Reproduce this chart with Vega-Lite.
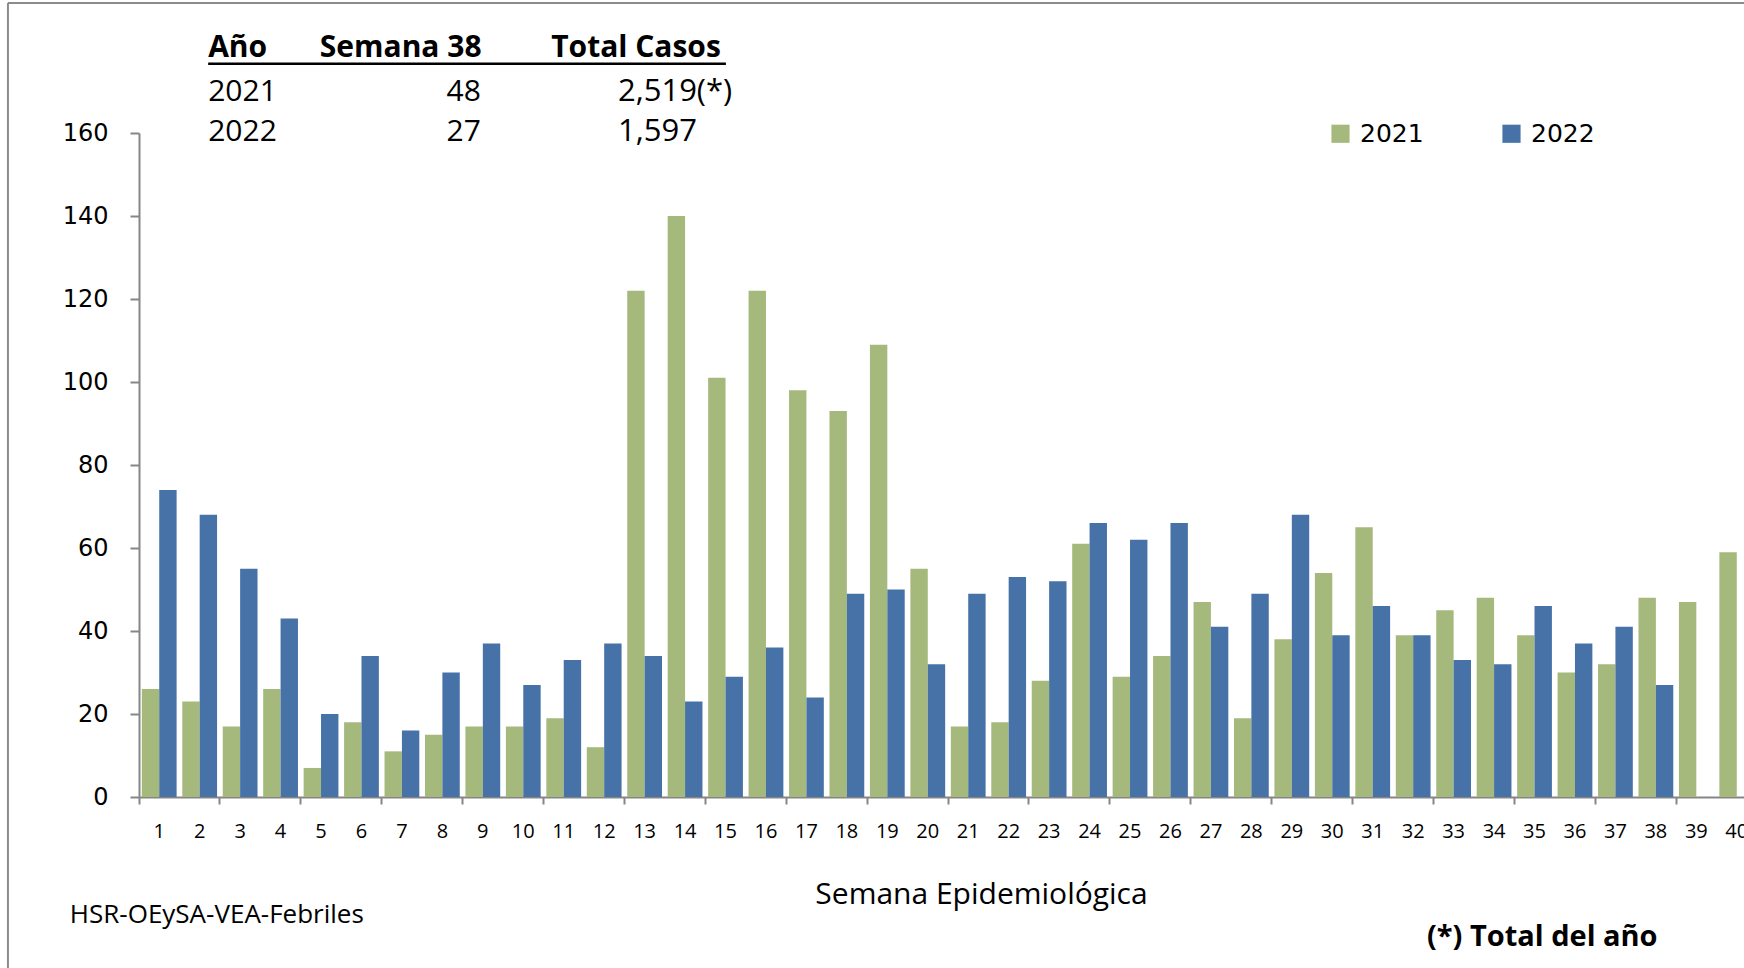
{
  "$schema": "https://vega.github.io/schema/vega-lite/v6.json",
  "width": 1605,
  "height": 664,
  "autosize": {"type": "none"},
  "padding": {"left": 139, "top": 133, "right": 0, "bottom": 171},
  "background": "white",
  "config": {"view": {"stroke": null}},
  "datasets": {
    "casos": [
      {"semana": 1, "year": "2021", "casos": 26}, {"semana": 2, "year": "2021", "casos": 23}, {"semana": 3, "year": "2021", "casos": 17}, {"semana": 4, "year": "2021", "casos": 26}, {"semana": 5, "year": "2021", "casos": 7},
      {"semana": 6, "year": "2021", "casos": 18}, {"semana": 7, "year": "2021", "casos": 11}, {"semana": 8, "year": "2021", "casos": 15}, {"semana": 9, "year": "2021", "casos": 17}, {"semana": 10, "year": "2021", "casos": 17},
      {"semana": 11, "year": "2021", "casos": 19}, {"semana": 12, "year": "2021", "casos": 12}, {"semana": 13, "year": "2021", "casos": 122}, {"semana": 14, "year": "2021", "casos": 140}, {"semana": 15, "year": "2021", "casos": 101},
      {"semana": 16, "year": "2021", "casos": 122}, {"semana": 17, "year": "2021", "casos": 98}, {"semana": 18, "year": "2021", "casos": 93}, {"semana": 19, "year": "2021", "casos": 109}, {"semana": 20, "year": "2021", "casos": 55},
      {"semana": 21, "year": "2021", "casos": 17}, {"semana": 22, "year": "2021", "casos": 18}, {"semana": 23, "year": "2021", "casos": 28}, {"semana": 24, "year": "2021", "casos": 61}, {"semana": 25, "year": "2021", "casos": 29},
      {"semana": 26, "year": "2021", "casos": 34}, {"semana": 27, "year": "2021", "casos": 47}, {"semana": 28, "year": "2021", "casos": 19}, {"semana": 29, "year": "2021", "casos": 38}, {"semana": 30, "year": "2021", "casos": 54},
      {"semana": 31, "year": "2021", "casos": 65}, {"semana": 32, "year": "2021", "casos": 39}, {"semana": 33, "year": "2021", "casos": 45}, {"semana": 34, "year": "2021", "casos": 48}, {"semana": 35, "year": "2021", "casos": 39},
      {"semana": 36, "year": "2021", "casos": 30}, {"semana": 37, "year": "2021", "casos": 32}, {"semana": 38, "year": "2021", "casos": 48}, {"semana": 39, "year": "2021", "casos": 47}, {"semana": 40, "year": "2021", "casos": 59},
      {"semana": 1, "year": "2022", "casos": 74}, {"semana": 2, "year": "2022", "casos": 68}, {"semana": 3, "year": "2022", "casos": 55}, {"semana": 4, "year": "2022", "casos": 43}, {"semana": 5, "year": "2022", "casos": 20},
      {"semana": 6, "year": "2022", "casos": 34}, {"semana": 7, "year": "2022", "casos": 16}, {"semana": 8, "year": "2022", "casos": 30}, {"semana": 9, "year": "2022", "casos": 37}, {"semana": 10, "year": "2022", "casos": 27},
      {"semana": 11, "year": "2022", "casos": 33}, {"semana": 12, "year": "2022", "casos": 37}, {"semana": 13, "year": "2022", "casos": 34}, {"semana": 14, "year": "2022", "casos": 23}, {"semana": 15, "year": "2022", "casos": 29},
      {"semana": 16, "year": "2022", "casos": 36}, {"semana": 17, "year": "2022", "casos": 24}, {"semana": 18, "year": "2022", "casos": 49}, {"semana": 19, "year": "2022", "casos": 50}, {"semana": 20, "year": "2022", "casos": 32},
      {"semana": 21, "year": "2022", "casos": 49}, {"semana": 22, "year": "2022", "casos": 53}, {"semana": 23, "year": "2022", "casos": 52}, {"semana": 24, "year": "2022", "casos": 66}, {"semana": 25, "year": "2022", "casos": 62},
      {"semana": 26, "year": "2022", "casos": 66}, {"semana": 27, "year": "2022", "casos": 41}, {"semana": 28, "year": "2022", "casos": 49}, {"semana": 29, "year": "2022", "casos": 68}, {"semana": 30, "year": "2022", "casos": 39},
      {"semana": 31, "year": "2022", "casos": 46}, {"semana": 32, "year": "2022", "casos": 39}, {"semana": 33, "year": "2022", "casos": 33}, {"semana": 34, "year": "2022", "casos": 32}, {"semana": 35, "year": "2022", "casos": 46},
      {"semana": 36, "year": "2022", "casos": 37}, {"semana": 37, "year": "2022", "casos": 41}, {"semana": 38, "year": "2022", "casos": 27}
    ]
  },
  "resolve": {"scale": {"x": "independent"}},
  "layer": [
    {
      "data": {"name": "casos"},
      "mark": {"type": "bar"},
      "encoding": {
        "x": {
          "field": "semana", "type": "ordinal",
          "scale": {"range": [0, 1618], "paddingInner": 0.14, "paddingOuter": 0.07},
          "axis": {
            "title": "Semana Epidemiológica",
            "titleFont": "Open Sans", "titleFontSize": 30, "titleFontWeight": "normal", "titleColor": "#000000",
            "titleX": 842, "titleY": 106, "titleAlign": "center", "titleBaseline": "alphabetic",
            "labelFont": "Open Sans", "labelFontSize": 20, "labelColor": "#000000", "labelAngle": 0,
            "labelOverlap": false, "labelPadding": 17, "labelBaseline": "top",
            "bandPosition": -0.0813,
            "domainColor": "#868686", "domainWidth": 2,
            "tickColor": "#868686", "tickWidth": 2, "tickSize": 7,
            "tickOpacity": {"condition": {"test": "datum.value % 2 === 1", "value": 1}, "value": 0},
            "grid": false
          }
        },
        "xOffset": {"field": "year", "type": "nominal"},
        "y": {
          "field": "casos", "type": "quantitative",
          "scale": {"domain": [0, 160], "nice": false},
          "axis": {
            "title": null, "values": [0, 20, 40, 60, 80, 100, 120, 140, 160],
            "labelFont": "DejaVu Sans", "labelFontSize": 24, "labelColor": "#000000", "labelPadding": 22,
            "domainColor": "#868686", "domainWidth": 2,
            "tickColor": "#868686", "tickWidth": 2, "tickSize": 9, "grid": false
          }
        },
        "color": {
          "field": "year", "type": "nominal",
          "scale": {"domain": ["2021", "2022"], "range": ["#A6B97D", "#4672A8"]},
          "legend": {
            "title": null, "orient": "none", "legendX": 1189, "legendY": -12, "direction": "horizontal",
            "symbolType": "square", "symbolSize": 330, "symbolStrokeWidth": 0,
            "labelFont": "DejaVu Sans", "labelFontSize": 25, "labelColor": "#000000", "labelOffset": 7,
            "columnPadding": 75, "padding": 0
          }
        }
      }
    },
    {
      "data": {"values": [{}]},
      "layer": [
        {"mark": {"type": "text", "font": "Open Sans", "fontWeight": "bold", "fontSize": 30, "align": "left", "baseline": "alphabetic", "color": "#000000"},
         "encoding": {"x": {"datum": 1.71, "type": "quantitative", "scale": {"domain": [0, 40], "range": [0, 1618]}, "axis": null},
                      "y": {"datum": 178.3, "type": "quantitative", "scale": {"domain": [0, 160], "nice": false}},
                      "text": {"value": "Año"}}},
        {"mark": {"type": "text", "font": "Open Sans", "fontWeight": "bold", "fontSize": 30, "align": "left", "baseline": "alphabetic", "color": "#000000"},
         "encoding": {"x": {"datum": 4.47, "type": "quantitative", "scale": {"domain": [0, 40], "range": [0, 1618]}, "axis": null},
                      "y": {"datum": 178.3, "type": "quantitative", "scale": {"domain": [0, 160], "nice": false}},
                      "text": {"value": "Semana 38"}}},
        {"mark": {"type": "text", "font": "Open Sans", "fontWeight": "bold", "fontSize": 30, "align": "left", "baseline": "alphabetic", "color": "#000000"},
         "encoding": {"x": {"datum": 10.19, "type": "quantitative", "scale": {"domain": [0, 40], "range": [0, 1618]}, "axis": null},
                      "y": {"datum": 178.3, "type": "quantitative", "scale": {"domain": [0, 160], "nice": false}},
                      "text": {"value": "Total Casos"}}},
        {"mark": {"type": "rule", "color": "#000000", "strokeWidth": 2.5},
         "encoding": {"x": {"datum": 1.71, "type": "quantitative", "scale": {"domain": [0, 40], "range": [0, 1618]}, "axis": null},
                      "x2": {"datum": 14.51},
                      "y": {"datum": 176.7, "type": "quantitative", "scale": {"domain": [0, 160], "nice": false}}}},
        {"mark": {"type": "text", "font": "Open Sans", "fontSize": 30, "align": "left", "baseline": "alphabetic", "color": "#000000"},
         "encoding": {"x": {"datum": 1.71, "type": "quantitative", "scale": {"domain": [0, 40], "range": [0, 1618]}, "axis": null},
                      "y": {"datum": 167.7, "type": "quantitative", "scale": {"domain": [0, 160], "nice": false}},
                      "text": {"value": "2021"}}},
        {"mark": {"type": "text", "font": "Open Sans", "fontSize": 30, "align": "right", "baseline": "alphabetic", "color": "#000000"},
         "encoding": {"x": {"datum": 8.45, "type": "quantitative", "scale": {"domain": [0, 40], "range": [0, 1618]}, "axis": null},
                      "y": {"datum": 167.7, "type": "quantitative", "scale": {"domain": [0, 160], "nice": false}},
                      "text": {"value": "48"}}},
        {"mark": {"type": "text", "font": "Open Sans", "fontSize": 31, "align": "left", "baseline": "alphabetic", "color": "#000000"},
         "encoding": {"x": {"datum": 11.84, "type": "quantitative", "scale": {"domain": [0, 40], "range": [0, 1618]}, "axis": null},
                      "y": {"datum": 167.7, "type": "quantitative", "scale": {"domain": [0, 160], "nice": false}},
                      "text": {"value": "2,519(*)"}}},
        {"mark": {"type": "text", "font": "Open Sans", "fontSize": 30, "align": "left", "baseline": "alphabetic", "color": "#000000"},
         "encoding": {"x": {"datum": 1.71, "type": "quantitative", "scale": {"domain": [0, 40], "range": [0, 1618]}, "axis": null},
                      "y": {"datum": 158.1, "type": "quantitative", "scale": {"domain": [0, 160], "nice": false}},
                      "text": {"value": "2022"}}},
        {"mark": {"type": "text", "font": "Open Sans", "fontSize": 30, "align": "right", "baseline": "alphabetic", "color": "#000000"},
         "encoding": {"x": {"datum": 8.45, "type": "quantitative", "scale": {"domain": [0, 40], "range": [0, 1618]}, "axis": null},
                      "y": {"datum": 158.1, "type": "quantitative", "scale": {"domain": [0, 160], "nice": false}},
                      "text": {"value": "27"}}},
        {"mark": {"type": "text", "font": "Open Sans", "fontSize": 31, "align": "left", "baseline": "alphabetic", "color": "#000000"},
         "encoding": {"x": {"datum": 11.84, "type": "quantitative", "scale": {"domain": [0, 40], "range": [0, 1618]}, "axis": null},
                      "y": {"datum": 158.1, "type": "quantitative", "scale": {"domain": [0, 160], "nice": false}},
                      "text": {"value": "1,597"}}},
        {"mark": {"type": "text", "font": "Open Sans", "fontSize": 26, "align": "left", "baseline": "alphabetic", "color": "#000000"},
         "encoding": {"x": {"datum": -1.71, "type": "quantitative", "scale": {"domain": [0, 40], "range": [0, 1618]}, "axis": null},
                      "y": {"datum": -30.4, "type": "quantitative", "scale": {"domain": [0, 160], "nice": false}},
                      "text": {"value": "HSR-OEySA-VEA-Febriles"}}},
        {"mark": {"type": "text", "font": "Open Sans", "fontWeight": "bold", "fontSize": 29, "align": "left", "baseline": "alphabetic", "color": "#000000"},
         "encoding": {"x": {"datum": 31.84, "type": "quantitative", "scale": {"domain": [0, 40], "range": [0, 1618]}, "axis": null},
                      "y": {"datum": -35.8, "type": "quantitative", "scale": {"domain": [0, 160], "nice": false}},
                      "text": {"value": "(*) Total del año"}}},
        {"mark": {"type": "rule", "color": "#8C8C8C", "strokeWidth": 2},
         "encoding": {"x": {"datum": -3.24, "type": "quantitative", "scale": {"domain": [0, 40], "range": [0, 1618]}, "axis": null},
                      "x2": {"datum": 40.3},
                      "y": {"datum": 191.3, "type": "quantitative", "scale": {"domain": [0, 160], "nice": false}}}},
        {"mark": {"type": "rule", "color": "#8C8C8C", "strokeWidth": 2},
         "encoding": {"x": {"datum": -3.24, "type": "quantitative", "scale": {"domain": [0, 40], "range": [0, 1618]}, "axis": null},
                      "y": {"datum": 191.3, "type": "quantitative", "scale": {"domain": [0, 160], "nice": false}},
                      "y2": {"datum": -41.2}}}
      ]
    }
  ]
}
